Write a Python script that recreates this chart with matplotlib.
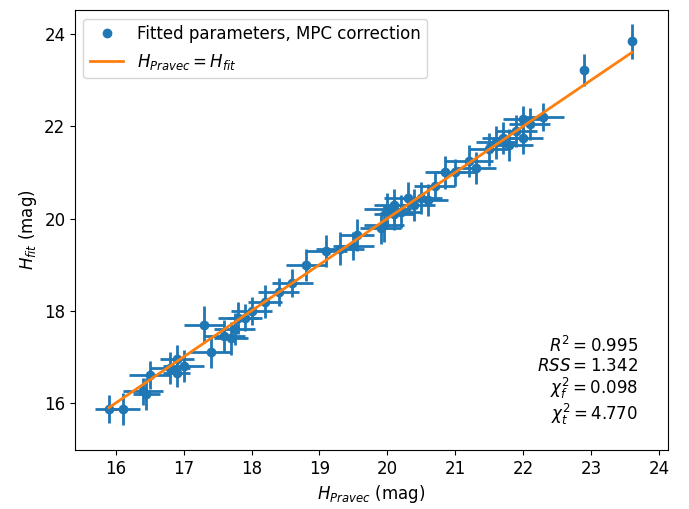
import matplotlib.pyplot as plt
import numpy as np

# H values
h_pravec = [15.9, 16.1, 16.4, 16.45, 16.5, 16.8, 16.9, 16.9, 17.0, 17.3,
            17.4, 17.6, 17.7, 17.75, 17.8, 17.9, 18.0, 18.2, 18.4, 18.6,
            18.8, 19.1, 19.3, 19.5, 19.55, 19.9, 19.95, 20.0, 20.1, 20.1,
            20.2, 20.3, 20.4, 20.5, 20.6, 20.7, 20.85, 21.0, 21.2, 21.3,
            21.5, 21.6, 21.7, 21.8, 21.9, 22.0, 22.0, 22.1, 22.3, 22.9, 23.6]
h_fit = [15.87, 15.87, 16.25, 16.2, 16.6, 16.75, 16.95, 16.65, 16.8, 17.7,
         17.1, 17.45, 17.4, 17.6, 17.85, 17.85, 18.0, 18.2, 18.4, 18.6,
         19.0, 19.3, 19.35, 19.4, 19.65, 19.8, 19.85, 20.2, 20.3, 20.1,
         20.15, 20.45, 20.3, 20.45, 20.4, 20.7, 21.0, 21.0, 21.25, 21.1,
         21.5, 21.65, 21.75, 21.6, 21.9, 21.75, 22.15, 22.05, 22.2, 23.22, 23.85]
x_err = [0.2, 0.25, 0.3, 0.2, 0.3, 0.3, 0.25, 0.2, 0.3, 0.3,
         0.3, 0.3, 0.25, 0.3, 0.3, 0.25, 0.3, 0.25, 0.3, 0.3,
         0.3, 0.3, 0.35, 0.3, 0.25, 0.3, 0.3, 0.35, 0.3, 0.3,
         0.3, 0.35, 0.3, 0.3, 0.3, 0.3, 0.3, 0.3, 0.35, 0.3,
         0.3, 0.3, 0.3, 0.35, 0.3, 0.3, 0.3, 0.3, 0.3, 0.02, 0.02]
y_err = [0.3, 0.35, 0.3, 0.35, 0.3, 0.35, 0.3, 0.3, 0.35, 0.4,
         0.35, 0.35, 0.35, 0.35, 0.35, 0.3, 0.3, 0.35, 0.3, 0.3,
         0.35, 0.35, 0.35, 0.3, 0.35, 0.35, 0.35, 0.35, 0.35, 0.35,
         0.35, 0.35, 0.35, 0.35, 0.35, 0.3, 0.35, 0.3, 0.35, 0.35,
         0.35, 0.35, 0.35, 0.35, 0.35, 0.35, 0.3, 0.35, 0.3, 0.35, 0.38]
line_range = [15.9, 23.6]
stats = [r'$R^2 = 0.995$', r'$RSS = 1.342$', r'$\chi^2_f = 0.098$', r'$\chi^2_t = 4.770$']

fig = plt.figure(figsize=(6.89, 5.09), dpi=100)
ax = fig.add_axes([0.109, 0.116, 0.86, 0.864])

ax.errorbar(h_pravec, h_fit, xerr=x_err, yerr=y_err, fmt='none', ecolor='C0', elinewidth=2)
ax.plot(h_pravec, h_fit, 'o', color='C0', label='Fitted parameters, MPC correction')
ax.plot(line_range, line_range, color='C1', lw=2, label=r'$H_{Pravec} = H_{fit}$')

ax.set_xlim(15.4, 24.13)
ax.set_ylim(14.98, 24.52)
ax.set_xlabel(r'$H_{Pravec}$ (mag)', fontsize=12)
ax.set_ylabel(r'$H_{fit}$ (mag)', fontsize=12)
ax.tick_params(labelsize=12)
ax.legend(loc='upper left', fontsize=12)

ax.text(0.95, 0.053, '\n'.join(stats), transform=ax.transAxes, ha='right', va='bottom',
        fontsize=12, linespacing=1.05, multialignment='right')

fig.savefig('out.png', dpi=100)
